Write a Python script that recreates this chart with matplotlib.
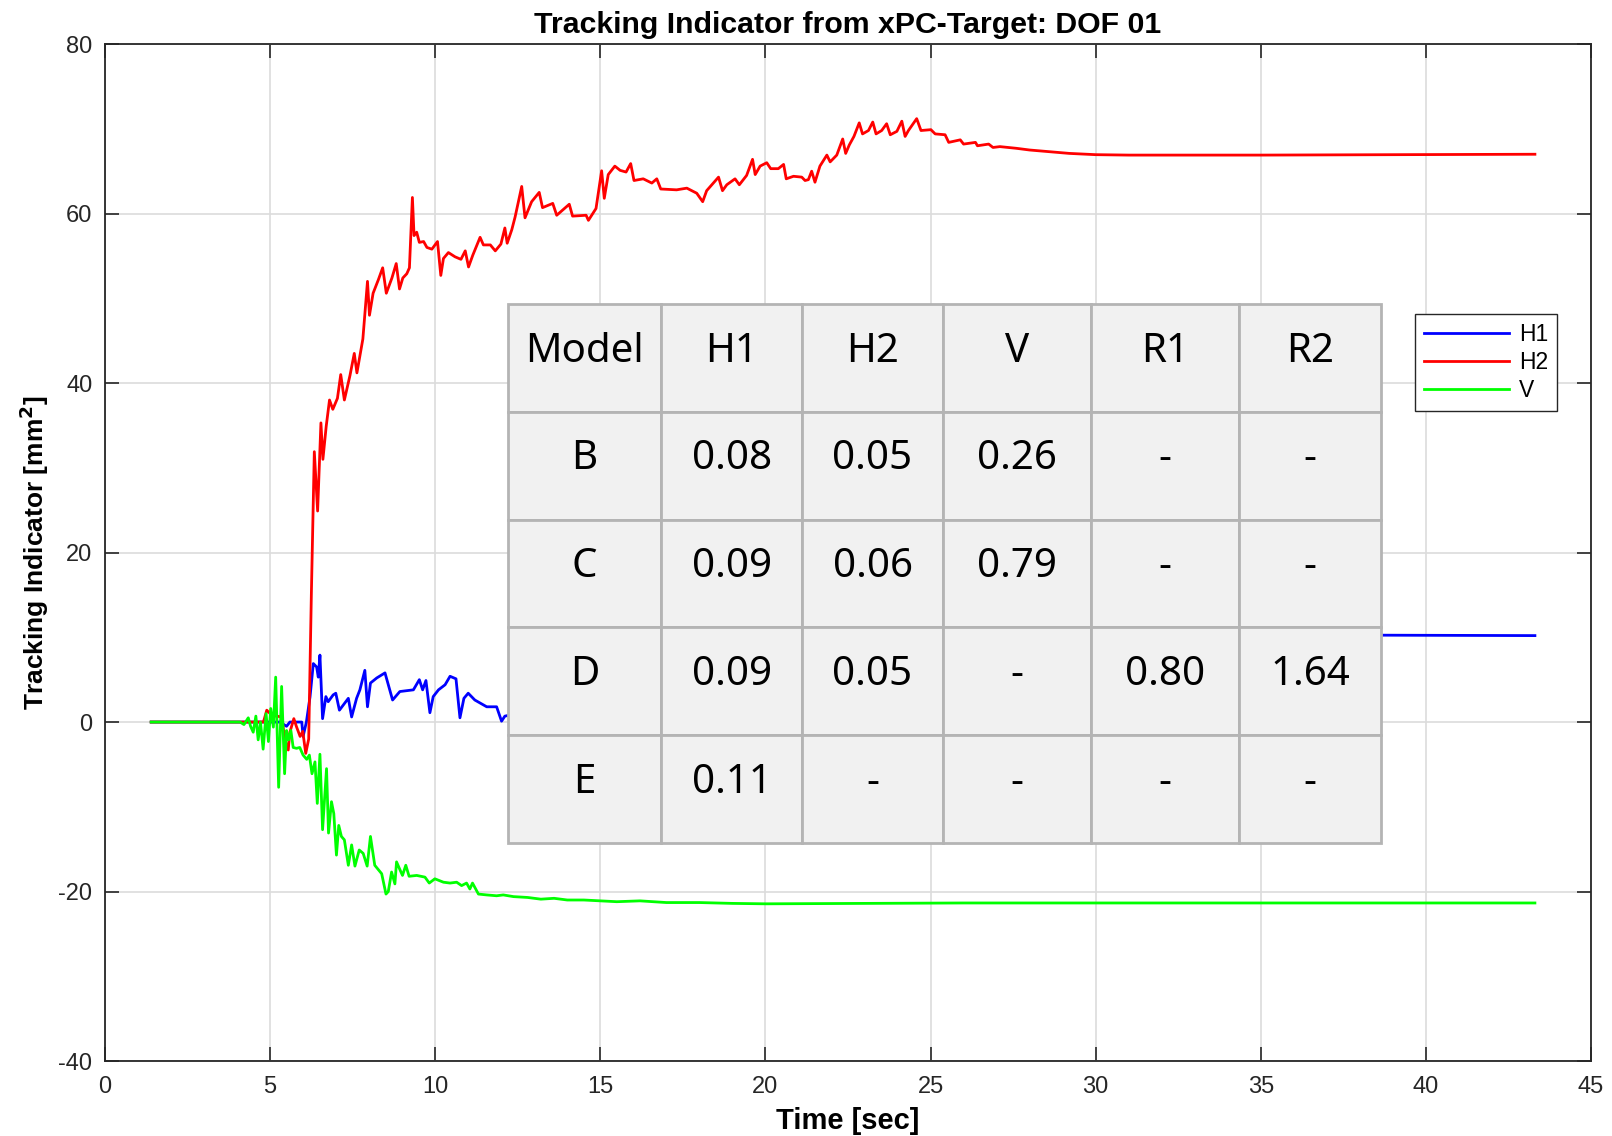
import matplotlib
matplotlib.use("Agg")
import matplotlib.pyplot as plt
from matplotlib.patches import Rectangle
from matplotlib.transforms import offset_copy

plt.rcParams["axes.unicode_minus"] = False

# --- measured signals -------------------------------------------------------
t_h1 = [1.4, 5.3, 5.5, 5.6, 5.96, 6.0, 6.1, 6.21, 6.31, 6.41, 6.46, 6.51, 6.59,
        6.69, 6.76, 6.91, 6.99, 7.1, 7.37, 7.47, 7.62, 7.72, 7.87, 7.95, 8.04,
        8.23, 8.48, 8.71, 8.93, 9.34, 9.52, 9.62, 9.72, 9.84, 9.94, 10.1, 10.3,
        10.45, 10.63, 10.75, 10.87, 11.0, 11.2, 11.56, 11.86, 12.01, 12.11,
        12.5, 14.0, 17.0, 20.0, 24.0, 28.0, 32.0, 38.6, 43.3]
h1 = [0, 0, -0.5, 0, 0, -1.7, 0, 2.97, 6.9, 6.5, 5.3, 7.9, 0.4,
      3.0, 2.4, 3.2, 3.4, 1.4, 2.8, 0.6, 2.8, 3.8, 6.1, 1.8, 4.6,
      5.2, 5.8, 2.6, 3.6, 3.8, 5.0, 3.8, 4.9, 1.1, 3.0, 3.8, 4.4,
      5.4, 5.1, 0.5, 2.8, 3.4, 2.6, 1.8, 1.8, 0.1, 0.7,
      1.0, 2.5, 5.0, 7.0, 9.0, 10.0, 10.3, 10.25, 10.2]

t_h2 = [1.4, 4.5, 4.8, 4.9, 5.05, 5.35, 5.45, 5.55, 5.6, 5.72, 5.8, 5.91, 5.99,
        6.08, 6.17, 6.25, 6.34, 6.44, 6.54, 6.6, 6.7, 6.8, 6.9, 7.04, 7.14,
        7.25, 7.42, 7.55, 7.63, 7.81, 7.95, 8.01, 8.12, 8.28, 8.41, 8.52, 8.69,
        8.82, 8.92, 9.02, 9.14, 9.22, 9.31, 9.36, 9.44, 9.52, 9.65, 9.75, 9.9,
        10.07, 10.17, 10.25, 10.4, 10.6, 10.78, 10.91, 11.01, 11.14, 11.36,
        11.46, 11.67, 11.82, 11.99, 12.11, 12.18, 12.32, 12.42, 12.62, 12.72,
        12.92, 13.15, 13.25, 13.56, 13.68, 14.06, 14.16, 14.57, 14.64, 14.87,
        15.04, 15.12, 15.24, 15.44, 15.6, 15.78, 15.92, 16.02, 16.3, 16.56,
        16.71, 16.83, 17.31, 17.62, 17.92, 18.1, 18.22, 18.58, 18.7, 18.83,
        19.08, 19.21, 19.43, 19.61, 19.69, 19.84, 20.04, 20.16, 20.39, 20.55,
        20.63, 20.85, 21.1, 21.2, 21.3, 21.4, 21.5, 21.65, 21.86, 21.96, 22.16,
        22.34, 22.43, 22.54, 22.68, 22.84, 22.94, 23.12, 23.25, 23.35, 23.52,
        23.67, 23.78, 23.98, 24.13, 24.23, 24.33, 24.58, 24.71, 25.01, 25.14,
        25.44, 25.55, 25.9, 26.0, 26.36, 26.42, 26.76, 26.89, 27.1, 27.6, 28.0,
        28.6, 29.2, 30.0, 31.0, 35.0, 43.3]
h2 = [0, 0, 0, 1.4, 0.8, 0.6, -2.1, -3.3, -1.2, 0.4, -0.55, -1.7, -1.1,
      -3.7, -2.0, 15.0, 31.9, 24.9, 35.3, 31.0, 34.9, 38.0, 36.9, 38.2, 41.0,
      38.0, 40.9, 43.5, 41.2, 45.2, 52.0, 48.0, 50.6, 52.2, 53.6, 50.6, 52.4,
      54.1, 51.1, 52.4, 52.9, 53.6, 61.9, 57.4, 57.8, 56.6, 56.7, 56.0, 55.8,
      56.7, 52.7, 54.7, 55.4, 54.9, 54.6, 55.6, 53.7, 55.1, 57.2,
      56.3, 56.3, 55.6, 56.4, 58.3, 56.5, 58.1, 59.6, 63.2, 59.5,
      61.4, 62.5, 60.7, 61.2, 59.8, 61.1, 59.7, 59.8, 59.2, 60.6,
      65.05, 61.8, 64.6, 65.6, 65.1, 64.9, 65.9, 63.9, 64.1, 63.6,
      64.1, 62.9, 62.8, 63.0, 62.4, 61.4, 62.7, 64.3, 62.7, 63.4,
      64.1, 63.4, 64.5, 66.4, 64.6, 65.6, 66.0, 65.3, 65.3, 65.8,
      64.1, 64.4, 64.3, 63.9, 64.0, 65.0, 63.7, 65.6, 66.9, 66.1, 66.9,
      68.8, 67.1, 68.1, 69.1, 70.7, 69.4, 69.8, 70.8, 69.4, 69.8,
      70.6, 69.3, 69.7, 70.9, 69.1, 69.8, 71.2, 69.8, 69.9, 69.4,
      69.3, 68.4, 68.7, 68.2, 68.4, 68.0, 68.2, 67.8, 67.9, 67.7, 67.5,
      67.3, 67.1, 66.95, 66.9, 66.9, 67.0]

t_v = [1.4, 4.09, 4.21, 4.34, 4.41, 4.49, 4.57, 4.64, 4.71, 4.79, 4.88, 4.95,
       5.02, 5.1, 5.17, 5.26, 5.35, 5.44, 5.5, 5.56, 5.63, 5.7, 5.8, 5.9, 6.0,
       6.11, 6.19, 6.27, 6.36, 6.43, 6.51, 6.59, 6.71, 6.77, 6.86, 6.93, 7.01,
       7.08, 7.16, 7.25, 7.37, 7.47, 7.57, 7.7, 7.82, 7.94, 8.04, 8.17, 8.38,
       8.51, 8.58, 8.68, 8.78, 8.83, 8.93, 9.01, 9.11, 9.21, 9.44, 9.69, 9.82,
       9.99, 10.25, 10.45, 10.65, 10.8, 10.95, 11.05, 11.13, 11.31, 11.56,
       11.86, 12.06, 12.37, 12.8, 13.2, 13.6, 14.0, 14.5, 15.0, 15.5, 16.2,
       17.0, 18.0, 19.0, 20.0, 23.0, 26.0, 30.0, 35.0, 43.3]
v = [0, 0, -0.3, 0.5, -0.5, -1.2, 0.7, -2.1, 0, -3.2, 1.0, -2.3,
     1.6, -0.6, 5.3, -7.7, 4.2, -6.1, -1.0, -2.1, -1.0, -3.0, -3.1, -3.0, -3.9,
     -4.4, -3.9, -6.1, -4.7, -9.6, -3.8, -12.7, -5.5, -13.1, -9.4, -10.8, -15.7,
     -12.2, -13.5, -13.9, -16.9, -14.5, -17.0, -15.1, -15.5, -17.0, -13.5, -16.9, -17.9,
     -20.3, -20.0, -17.7, -19.1, -16.5, -17.4, -18.1, -16.9, -18.2, -18.1, -18.3, -19.0,
     -18.5, -18.9, -19.0, -18.9, -19.3, -19.0, -19.7, -19.0, -20.3, -20.4,
     -20.5, -20.4, -20.6, -20.7, -20.9, -20.8, -21.0, -21.0, -21.1, -21.2, -21.1,
     -21.3, -21.3, -21.4, -21.45, -21.4, -21.35, -21.35, -21.35, -21.35]

# --- summary table ----------------------------------------------------------
table_header = ["Model", "H1", "H2", "V", "R1", "R2"]
table_rows = [
    ["B", "0.08", "0.05", "0.26", "-", "-"],
    ["C", "0.09", "0.06", "0.79", "-", "-"],
    ["D", "0.09", "0.05", "-", "0.80", "1.64"],
    ["E", "0.11", "-", "-", "-", "-"],
]
col_widths = [149, 137, 137, 144, 144, 138]

x_ticks = [0, 5, 10, 15, 20, 25, 30, 35, 40, 45]
y_ticks = [-40, -20, 0, 20, 40, 60, 80]

axis_color = "#262626"
font = ["Liberation Sans", "DejaVu Sans"]

fig = plt.figure(figsize=(16.12, 11.36), dpi=100)
ax = fig.add_axes([0.0651, 0.066, 0.9219, 0.8952])

ax.plot(t_h1, h1, color="#0000ff", lw=2.0, label="H1", zorder=3)
ax.plot(t_h2, h2, color="#ff0000", lw=2.0, label="H2", zorder=3)
ax.plot(t_v, v, color="#00ff00", lw=2.0, label="V", zorder=3)

ax.set_xlim(0, 45)
ax.set_ylim(-40, 80)
ax.set_xticks(x_ticks)
ax.set_yticks(y_ticks)
ax.grid(True, color="#dcdcdc", lw=1.2, zorder=0)
ax.set_axisbelow(True)
ax.tick_params(direction="in", length=10, width=1.2, top=True, right=True,
               colors=axis_color, labelsize=17)
ax.tick_params(axis="x", pad=11)
ax.tick_params(axis="y", pad=9)
for lab in ax.get_xticklabels() + ax.get_yticklabels():
    lab.set_family(font)
for sp in ax.spines.values():
    sp.set_color(axis_color)
    sp.set_linewidth(1.3)

ax.set_title("Tracking Indicator from xPC-Target: DOF 01", fontsize=21.8,
             fontweight="bold", family=font, pad=8)
ax.set_xlabel("Time [sec]", fontsize=21, fontweight="bold", family=font,
              labelpad=6)
ax.set_ylabel("Tracking Indicator [mm$^\\mathbf{2}$]", fontsize=19,
              fontweight="bold", family=font, labelpad=5)

leg = ax.legend(loc="upper left", bbox_to_anchor=(0.8816, 0.7345),
                borderaxespad=0, fancybox=False, framealpha=1,
                edgecolor=axis_color, handlelength=3.7,
                handletextpad=0.45, labelspacing=0.22, borderpad=0.38,
                prop={"family": font, "size": 16.5})
leg.get_frame().set_linewidth(1.0)
leg.set_zorder(20)

# table drawn cell by cell in axes coordinates
tbl_x0, tbl_x1 = 0.2712, 0.8587
tbl_y0, tbl_y1 = 0.2144, 0.7443
all_rows = [table_header] + table_rows
n_rows = len(all_rows)
row_h = (tbl_y1 - tbl_y0) / n_rows
total_w = sum(col_widths)
col_x = [tbl_x0]
for w in col_widths:
    col_x.append(col_x[-1] + (tbl_x1 - tbl_x0) * w / total_w)
text_tr = offset_copy(ax.transAxes, fig=fig, x=0, y=-2.6, units="points")
for r, row in enumerate(all_rows):
    y_top = tbl_y1 - r * row_h
    for c, s in enumerate(row):
        rect = Rectangle((col_x[c], y_top - row_h), col_x[c + 1] - col_x[c],
                         row_h, transform=ax.transAxes, facecolor="#f1f1f1",
                         edgecolor="#b4b4b4", lw=2.0, zorder=10, clip_on=False)
        ax.add_patch(rect)
        ax.text((col_x[c] + col_x[c + 1]) / 2, y_top - row_h / 2, s,
                transform=text_tr, ha="center", va="baseline",
                fontsize=29, family=["Noto Sans", "DejaVu Sans"],
                color="black", zorder=11)

fig.savefig("out.png", dpi=100, facecolor="white")
